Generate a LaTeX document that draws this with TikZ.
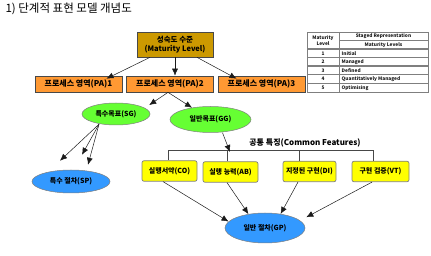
\documentclass[tikz,border=0pt]{standalone}
\usepackage{fontspec}
\setmainfont{Noto Sans CJK KR}
\usetikzlibrary{arrows.meta,positioning,calc,shapes.geometric}
\definecolor{cGold}{HTML}{CC9900}
\definecolor{cOrange}{HTML}{FF9933}
\definecolor{cLime}{HTML}{66FF33}
\definecolor{cSky}{HTML}{3399FF}
\definecolor{cYellow}{HTML}{FFFF00}
\definecolor{cEdge}{HTML}{7F7F7F}
\definecolor{cInk}{HTML}{1A1A1A}
\tikzset{
  mlbox/.style={draw=cInk!80,fill=cGold,line width=0.7pt,align=center,font=\fontsize{7.5}{9}\selectfont\bfseries,inner sep=1pt},
  pabox/.style={draw=cInk!80,fill=cOrange,line width=0.7pt,font=\fontsize{8}{9}\selectfont\bfseries,inner sep=1pt,minimum height=16pt,minimum width=87pt},
  goal/.style={ellipse,draw=cEdge,fill=#1,line width=0.5pt,font=\fontsize{7}{8}\selectfont\bfseries,inner sep=0pt},
  goal/.default=cLime,
  cfbox/.style={draw=cEdge,fill=cYellow,rounded corners=2pt,line width=0.7pt,font=\fontsize{7}{8}\selectfont\bfseries,inner sep=1pt,minimum height=20.5pt},
  arr/.style={-{Latex[length=7pt,width=6pt]},line width=0.5pt,color=cInk},
  link/.style={line width=0.6pt,color=cInk!80},
  tcell/.style={font=\fontsize{4.8}{5.6}\selectfont\bfseries,inner sep=0pt,text=cInk},
  tline/.style={color=cEdge,line width=#1},
  tline/.default=0.6pt,
}

\begin{document}
\begin{tikzpicture}[x=1pt,y=-1pt]
  \useasboundingbox (0,0) rectangle (431,256);
  \node[anchor=west,font=\fontsize{11.5}{13}\selectfont] (title) at (2,8.5) {1) 단계적 표현 모델 개념도};

  % maturity level and process areas
  \node[mlbox,minimum width=76pt,minimum height=25pt] (ml) at (175,44.5) {성숙도 수준\\(Maturity Level)};
  \node[pabox] (pa1) at (78.5,84) {프로세스 영역(PA)1};
  \node[pabox] (pa2) at (170,84) {프로세스 영역(PA)2};
  \node[pabox] (pa3) at (261.5,84) {프로세스 영역(PA)3};
  \draw[arr] ([xshift=-25pt]ml.south) -- ([xshift=28pt,yshift=-3pt]pa1.north);
  \draw[arr] (ml.south) -- (ml.south |- pa2.north);
  \draw[arr] ([xshift=22pt]ml.south) -- ([xshift=-25pt,yshift=-3pt]pa3.north);

  % goals
  \node[goal,minimum width=68pt,minimum height=22pt] (sg) at (116,114) {특수목표(SG)};
  \node[goal,minimum width=81pt,minimum height=26pt] (gg) at (210.5,119.5) {일반목표(GG)};
  \draw[arr] ([xshift=-2pt]pa2.south) -- ([xshift=9pt,yshift=1pt]sg.north east);
  \draw[arr] ([xshift=-2pt]pa2.south) -- (gg);

  % specific practices
  \node[goal=cSky,minimum width=78pt,minimum height=23pt] (sp) at (71,181.5) {특수 절차(SP)};
  \coordinate (sgb) at ([xshift=-17pt,yshift=1pt]sg.south);
  \coordinate (t1) at ($(sp.north)+(-11,-9)$);
  \coordinate (t2) at ($(sp.north)+(11,-15)$);
  \coordinate (t3) at ($(sp.north)+(17,-5)$);
  \foreach \t in {t1,t2,t3}
    \draw[arr] (sgb) -- (\t);

  % common features
  \node[font=\fontsize{8}{9}\selectfont\bfseries] (cf) at (305,142.5) {공통 특징(Common Features)};
  \node[cfbox,minimum width=55pt] (co) at (169.5,171) {실행서약(CO)};
  \node[cfbox,minimum width=55pt] (ab) at (230.5,172) {실행 능력(AB)};
  \node[cfbox,minimum width=53pt] (di) at (309.5,171.5) {지정된 구현(DI)};
  \node[cfbox,minimum width=57pt] (vt) at (380.5,171.5) {구현 검증(VT)};
  \coordinate (bar) at (0,150);
  \draw[link] ([xshift=-1.5pt]co.north) -- ([xshift=-1.5pt]co.north |- bar)
    -- ([xshift=-7.5pt]vt.north |- bar) -- ([xshift=-7.5pt]vt.north);
  \draw[link] ([xshift=-3.5pt]ab.north) -- ([xshift=-3.5pt]ab.north |- bar);
  \draw[link] ([xshift=-10.5pt]di.north) -- ([xshift=-10.5pt]di.north |- bar);
  \draw[arr] ([xshift=12pt]gg.south) -- ([xshift=19.5pt,yshift=-2pt]gg.south |- bar);

  % generic practices
  \node[goal=cSky,minimum width=80pt,minimum height=30pt] (gp) at (265,228) {일반 절차(GP)};
  \draw[arr] ([xshift=-6.5pt]co.south) -- (gp.170);
  \draw[arr] ([xshift=-3.5pt]ab.south) -- (gp.140);
  \draw[arr] ([xshift=-11.5pt]di.south) -- (gp.42);
  \draw[arr,shorten >=7pt] ([xshift=-8.5pt]vt.south) -- (gp.12);

  % staged representation table
  \draw[tline=0.8pt] (307,32) rectangle (428,92);
  \draw[tline] (339,32) -- (339,92);
  \draw[tline] (339,40.5) -- (428,40.5);
  \foreach \y in {49,57.6,66.2,74.8,83.4}
    \draw[tline=1.4pt] (307,\y) -- (428,\y);
  \node[tcell,align=center] (thl) at (323,40.5) {Maturity\\Level};
  \node[tcell] (ths) at (383.5,36.3) {Staged Representation};
  \node[tcell] (thm) at (383.5,44.8) {Maturity Levels};
  \foreach \n/\lvl [count=\i] in {1/Initial,2/Managed,3/Defined,4/Quantitatively Managed,5/Optimising}{
    \node[tcell] (lv\i) at (323,{49+(\i-0.5)*8.6}) {\n};
    \node[tcell,anchor=west] (ln\i) at (341.5,{49+(\i-0.5)*8.6}) {\lvl};
  }
\end{tikzpicture}
\end{document}
